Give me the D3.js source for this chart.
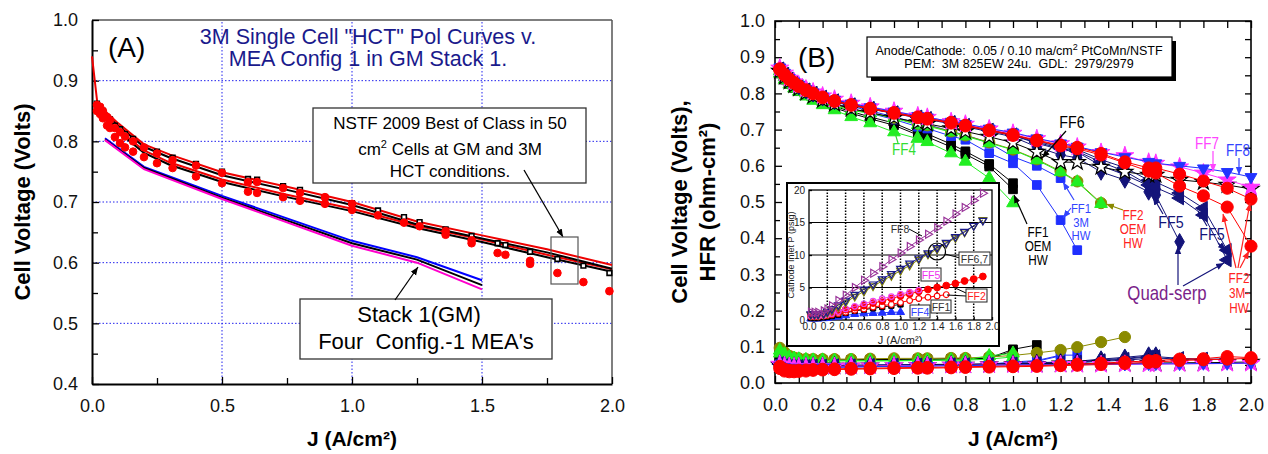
<!DOCTYPE html>
<html><head><meta charset="utf-8">
<script src="https://cdn.jsdelivr.net/npm/d3@7"></script>
<style>body{margin:0;background:#fff;} svg{display:block;font-family:"Liberation Sans",Arial,sans-serif;}</style>
</head><body><svg id="c" width="1268" height="454"></svg>
<script>
// ---------------- Panel A data ----------------
const gridXA = [0.5, 1.0, 1.5];
const gridYA = [0.5, 0.6, 0.7, 0.8, 0.9];
const xTickA = [0, 0.5, 1.0, 1.5, 2.0];
const xMinorA = [0.25, 0.75, 1.25, 1.75];
const yTickA = [0.4, 0.5, 0.6, 0.7, 0.8, 0.9, 1.0];
const yMinorA = [0.45, 0.55, 0.65, 0.75, 0.85, 0.95];

const nstfJ = [0, 0.02, 0.05, 0.1, 0.2, 0.3, 0.5, 0.75, 1.0, 1.25, 1.5, 1.75, 2.0];
const nstfRedHi = [0.94, 0.865, 0.85, 0.83, 0.795, 0.778, 0.749, 0.725, 0.700, 0.668, 0.645, 0.622, 0.596];
const nstfBlackHi = [null, 0.862, 0.846, 0.826, 0.791, 0.773, 0.744, 0.720, 0.695, 0.663, 0.640, 0.617, 0.590];
const nstfRedLo = [null, 0.855, 0.840, 0.820, 0.785, 0.765, 0.737, 0.712, 0.689, 0.661, 0.638, 0.613, 0.589];
const nstfBlackLo = [null, 0.852, 0.836, 0.816, 0.781, 0.761, 0.733, 0.708, 0.685, 0.657, 0.634, 0.609, 0.585];

const dotJ = [0.019,0.031,0.042,0.058,0.069,0.088,0.108,0.127,0.158,0.2,0.25,0.31,0.4,0.5,0.6,0.635,0.735,0.8,0.896,1.0,1.1,1.2,1.26,1.36,1.46,1.56,1.59,1.685,1.79,1.89,1.99];
const redDotHi = [0.860,0.857,0.850,0.840,0.835,0.822,0.815,0.808,0.800,0.790,0.780,0.769,0.760,0.748,0.733,0.733,0.723,0.715,0.708,0.697,null,null,null,0.652,0.637,null,null,0.603,null,null,null];
const redDotLo = [0.850,0.845,0.838,0.826,0.822,0.807,0.797,0.790,0.783,0.774,0.764,0.756,0.742,0.731,0.717,0.715,0.708,0.702,0.697,0.687,0.678,0.666,0.660,0.646,0.632,0.616,0.613,0.598,0.583,0.568,0.553];
const blackSq = [0.862,0.856,0.850,0.840,0.836,0.826,0.820,0.812,0.804,0.790,0.783,0.773,0.763,0.750,0.738,0.737,0.726,0.720,0.708,0.698,0.686,0.675,0.667,0.655,0.644,0.632,0.629,0.618,0.606,0.595,0.583];

const stackJ = [0.05, 0.2, 0.5, 1.0, 1.25, 1.5];
const stackBlue = [0.805, 0.758, 0.710, 0.636, 0.609, 0.571];
const stackBlack = [0.803, 0.756, 0.707, 0.632, 0.605, 0.563];
const stackMagenta = [0.802, 0.754, 0.705, 0.628, 0.600, 0.556];

// ---------------- Panel B data ----------------
const xTickB = [0, 0.2, 0.4, 0.6, 0.8, 1.0, 1.2, 1.4, 1.6, 1.8, 2.0];
const xMinorB = [0.1, 0.3, 0.5, 0.7, 0.9, 1.1, 1.3, 1.5, 1.7, 1.9];
const yTickB = [0, 0.1, 0.2, 0.3, 0.4, 0.5, 0.6, 0.7, 0.8, 0.9, 1.0];
const yMinorB = [0.05, 0.15, 0.25, 0.35, 0.45, 0.55, 0.65, 0.75, 0.85, 0.95];

const jB = [0.02,0.04,0.06,0.08,0.1,0.13,0.16,0.2,0.25,0.32,0.4,0.5,0.6,0.64,0.74,0.8,0.9,1.0,1.1,1.2,1.27,1.37,1.47,1.57,1.6,1.7,1.8,1.9,2.0];

const ff8V = [0.872,0.857,0.843,0.833,0.824,0.812,0.803,0.792,0.783,0.772,0.762,0.750,0.738,0.734,0.722,0.716,0.703,0.692,0.676,0.662,0.653,0.638,0.624,0.611,0.607,0.600,0.593,0.583,0.569];
const ff8H = [0.048,0.044,0.042,0.042,0.042,0.042,0.042,0.043,0.043,0.044,0.045,0.046,0.047,0.047,0.048,0.048,0.049,0.050,0.050,0.051,0.051,0.052,0.052,0.053,0.053,0.053,0.054,0.054,0.055];
const ff7V = [0.870,0.856,0.842,0.832,0.823,0.812,0.804,0.793,0.784,0.773,0.763,0.751,0.738,0.734,0.722,0.715,0.702,0.690,0.675,0.661,0.652,0.637,0.628,0.610,0.607,0.597,0.580,0.561,0.541];
const ff7H = [0.052,0.048,0.046,0.045,0.045,0.045,0.045,0.046,0.046,0.047,0.047,0.048,0.048,0.048,0.049,0.049,0.050,0.050,0.050,0.051,0.051,0.051,0.052,0.052,0.052,0.053,0.053,0.054,0.054];
const red1V = [0.868,0.853,0.840,0.830,0.821,0.810,0.801,0.790,0.780,0.769,0.759,0.747,0.735,0.731,0.720,0.712,0.699,0.686,0.671,0.657,0.651,0.634,0.611,0.594,0.594,0.577,0.558,0.538,0.508];
const red1H = [0.040,0.033,0.031,0.031,0.032,0.033,0.035,0.036,0.037,0.038,0.039,0.040,0.041,0.041,0.042,0.043,0.044,0.045,0.046,0.048,0.049,0.051,0.054,0.057,0.058,0.062,0.064,0.066,0.068];
const red2V = [0.865,0.850,0.838,0.828,0.819,0.808,0.799,0.788,0.778,0.767,0.757,0.745,0.733,0.729,0.718,0.710,0.697,0.684,0.669,0.655,0.647,0.630,0.608,0.585,0.580,0.544,0.517,0.486,0.378];
const red2H = [0.046,0.038,0.035,0.034,0.035,0.036,0.037,0.038,0.039,0.040,0.041,0.042,0.043,0.043,0.044,0.045,0.046,0.047,0.048,0.050,0.052,0.055,0.058,0.061,0.062,0.066,0.067,0.073,0.070];
const ff6V = [0.862,0.846,0.833,0.823,0.814,0.802,0.793,0.782,0.771,0.758,0.747,0.733,0.720,0.716,0.703,0.695,0.680,0.664,0.638,0.610,0.610,0.597,0.583,0.575,0.575,0.561,0.555,0.547,0.536];
const ff6H = [0.050,0.046,0.045,0.045,0.045,0.045,0.046,0.046,0.047,0.047,0.048,0.048,0.049,0.049,0.050,0.050,0.051,0.052,0.052,0.053,0.053,0.054,0.054,0.055,0.055,0.056,0.056,0.057,0.058];
const n1V = [0.866,0.851,0.838,0.828,0.819,0.808,0.799,0.788,0.778,0.767,0.757,0.745,0.732,0.728,0.716,0.708,0.694,0.680,0.652,0.630,0.622,0.583,0.561,0.528,0.519,0.390];
const n1H = [0.055,0.050,0.048,0.047,0.047,0.047,0.047,0.048,0.048,0.049,0.050,0.050,0.051,0.051,0.052,0.052,0.053,0.054,0.056,0.058,0.060,0.066,0.071,0.077,0.077];
const n2V = [0.867,0.852,0.839,0.829,0.820,0.809,0.800,0.789,0.779,0.768,0.758,0.746,0.734,0.730,0.718,0.710,0.697,0.684,0.662,0.645,0.638,0.600,0.575,0.545,0.535];
const n2H = [0.053,0.049,0.047,0.046,0.046,0.046,0.046,0.047,0.047,0.048,0.049,0.049,0.050,0.050,0.051,0.051,0.052,0.053,0.055,0.057,0.059,0.064,0.068,0.074,0.075];
const n3V = [0.868,0.853,0.840,0.830,0.821,0.810,0.801,0.790,0.780,0.769,0.759,0.747,0.735,0.731,0.720,0.712,0.699,0.686,0.668,0.652,0.645,0.617,0.595,0.560,0.555,0.525,0.483,0.367];
const n3H = [0.052,0.048,0.046,0.045,0.045,0.045,0.046,0.046,0.047,0.047,0.048,0.049,0.049,0.049,0.050,0.050,0.051,0.052,0.053,0.055,0.056,0.060,0.063,0.068,0.069,0.066,0.065,0.065];
const n4V = [0.867,0.852,0.839,0.829,0.820,0.809,0.800,0.789,0.779,0.768,0.758,0.746,0.734,0.730,0.719,0.711,0.698,0.684,0.665,0.648,0.640,0.610,0.585,0.547,0.540,0.511,0.464,0.340];
const n4H = [0.054,0.049,0.047,0.046,0.046,0.046,0.047,0.047,0.048,0.048,0.049,0.050,0.050,0.050,0.051,0.051,0.052,0.053,0.054,0.056,0.058,0.062,0.066,0.072,0.073,0.068,0.066,0.066];
const k1V = [0.860,0.843,0.830,0.818,0.810,0.798,0.788,0.776,0.764,0.750,0.735,0.718,0.690,0.688,0.660,0.640,0.605,0.552];
const k1H = [0.075,0.070,0.068,0.066,0.065,0.065,0.064,0.064,0.064,0.064,0.065,0.065,0.066,0.066,0.067,0.067,0.069,0.093,0.105];
const k2V = [0.855,0.838,0.826,0.815,0.806,0.795,0.785,0.772,0.760,0.745,0.730,0.712,0.685,0.680,0.652,0.632,0.598,0.535];
const k2H = [0.070,0.066,0.064,0.063,0.063,0.062,0.062,0.062,0.062,0.063,0.063,0.064,0.064,0.065,0.066,0.066,0.068,0.088];
const b1V = [0.870,0.855,0.842,0.832,0.822,0.810,0.800,0.788,0.777,0.764,0.752,0.735,0.718,0.714,0.695,0.685,0.663,0.625,0.600,0.566];
const b1H = [0.050,0.045,0.043,0.042,0.042,0.042,0.043,0.043,0.044,0.045,0.045,0.046,0.047,0.047,0.048,0.048,0.050,0.055,0.060,0.075];
const b2V = [0.868,0.852,0.838,0.828,0.818,0.806,0.796,0.784,0.772,0.758,0.745,0.728,0.708,0.703,0.682,0.672,0.635,0.607,0.547,0.450,0.367];
const b2H = [0.052,0.046,0.044,0.043,0.043,0.043,0.044,0.044,0.045,0.046,0.046,0.047,0.048,0.048,0.049,0.050,0.052,0.058,0.062,0.077,0.077];
const g1V = [0.855,0.838,0.825,0.814,0.805,0.792,0.780,0.768,0.754,0.735,0.718,0.693,0.675,0.666,0.635,0.612,0.566,0.497];
const g1H = [0.082,0.075,0.070,0.067,0.065,0.063,0.062,0.062,0.061,0.061,0.061,0.061,0.062,0.062,0.063,0.063,0.066,0.072];
const g2V = [0.862,0.846,0.833,0.822,0.813,0.800,0.790,0.778,0.767,0.753,0.745,0.732,0.713,0.710,0.693,0.682,0.663,0.644,0.616,0.583,0.555,0.495];
const g2H = [0.090,0.080,0.072,0.068,0.066,0.064,0.063,0.063,0.062,0.062,0.062,0.062,0.063,0.063,0.064,0.064,0.075,0.082];
const olV = [0.862,0.847,0.834,0.823,0.814,0.802,0.792,0.780,0.769,0.756,0.746,0.733,0.716,0.712,0.695,0.684,0.665,0.645,0.618,0.585,0.557,0.497];
const olH = [0.097,0.085,0.075,0.070,0.068,0.066,0.066,0.066,0.066,0.066,0.067,0.068,0.068,0.068,0.069,0.069,0.072,0.076,0.083,0.091,0.099,0.113,0.127];

// ---------------- Inset data ----------------
const insXTicks = [0,0.2,0.4,0.6,0.8,1.0,1.2,1.4,1.6,1.8,2.0];
const insYTicks = [0,5,10,15,20];
const insJ = [0.02,0.06,0.1,0.16,0.2,0.25,0.32,0.4,0.5,0.6,0.7,0.8,0.9,1.0,1.1,1.2,1.3,1.4,1.5,1.6,1.7,1.8,1.9];
const insFF8 = [1.2,1.2,1.2,1.4,1.7,2.2,3.0,3.8,5.0,6.1,7.2,8.2,9.3,10.3,11.3,12.3,13.2,14.2,15.2,16.3,17.3,18.4,19.5];
const insFF6 = [0.9,0.9,0.9,1.0,1.3,1.7,2.3,3.0,3.9,4.7,5.5,6.3,7.1,7.9,8.7,9.5,10.3,11.1,11.9,12.8,13.6,14.5,15.3];
const insFF7 = [0.8,0.8,0.8,0.9,1.1,1.5,2.0,2.7,3.6,4.4,5.2,6.0,6.8,7.6,8.4,9.3,10.1,10.9,11.8,12.6,13.5,14.5,15.4];
const insFF5 = [0.6,0.6,0.6,0.7,0.9,1.0,1.3,1.7,2.1,2.5,2.9,3.3,3.6,4.0,4.3,4.6];
const insFF2 = [0.8,0.8,0.8,0.9,1.0,1.1,1.3,1.6,1.9,2.2,2.6,2.9,3.3,3.7,4.0,4.4,4.7,5.0,5.3,5.6,6.0,6.3,6.7];
const insFF2o = [0.5,0.5,0.5,0.6,0.7,0.8,1.0,1.2,1.5,1.7,2.0,2.2,2.4,2.7,3.0,3.3,3.5,3.7,3.9];
const insFF1 = [0.3,0.3,0.3,0.4,0.5,0.6,0.8,1.1,1.4,1.6,1.8,2.0,2.2,2.4];
const insFF4 = [0.2,0.2,0.2,0.25,0.3,0.4,0.5,0.7,0.9,1.0,1.05,1.1,1.2,1.2];

// ---------------- drawing ----------------
const svg = d3.select('#c');
const FONT = '"Liberation Sans", Arial, sans-serif';
const defs = svg.append('defs');
function arrowId(color){
  const id = 'ah' + color.replace('#','');
  if (defs.select('#'+id).empty()){
    defs.append('marker').attr('id',id).attr('viewBox','0 0 10 10').attr('refX',10).attr('refY',5)
      .attr('markerWidth',8).attr('markerHeight',8).attr('markerUnits','userSpaceOnUse').attr('orient','auto')
      .append('path').attr('d','M0,1 L10,5 L0,9 z').attr('fill',color);
  }
  return 'url(#'+id+')';
}
function arrow(g,x1,y1,x2,y2,color,w){
  g.append('line').attr('x1',x1).attr('y1',y1).attr('x2',x2).attr('y2',y2)
   .attr('stroke',color).attr('stroke-width',w||1.2).attr('marker-end',arrowId(color));
}
const SYM = {circle:[d3.symbolCircle,0], square:[d3.symbolSquare,0], triUp:[d3.symbolTriangle,0],
  triDown:[d3.symbolTriangle,180], triLeft:[d3.symbolTriangle,-90], triRight:[d3.symbolTriangle,90],
  diamond:[d3.symbolDiamond,0], star:[d3.symbolStar,0]};
function series(g, xs, ys, js, vs, o){
  const pts = vs.map((v,i)=>({j:js[i], v:v})).filter(p=>p.v!=null);
  if (o.line !== false){
    g.append('path').datum(pts).attr('d', d3.line().x(p=>xs(p.j)).y(p=>ys(p.v)))
      .attr('fill','none').attr('stroke',o.lineColor||o.color).attr('stroke-width',o.lw||1);
  }
  if (o.marker){
    const s = SYM[o.marker];
    const path = d3.symbol().type(s[0]).size(o.size||60)();
    g.selectAll(null).data(pts).enter().append('path')
      .attr('transform',p=>`translate(${xs(p.j)},${ys(p.v)}) rotate(${s[1]})`)
      .attr('d',path).attr('fill',o.fill||o.color).attr('stroke',o.stroke||o.color).attr('stroke-width',o.sw||1);
  }
}
function styleAxis(g,size,fill){
  g.selectAll('text').attr('font-size',size).attr('font-family',FONT).attr('fill',fill||'#111');
  g.selectAll('.tick line').attr('stroke','#000').attr('stroke-width',1.3);
}

// ===== Panel A =====
const xA = d3.scaleLinear().domain([0,2]).range([92,612]);
const yA = d3.scaleLinear().domain([0.4,1.0]).range([384,20]);
const gA = svg.append('g');
gA.selectAll(null).data(gridXA).enter().append('line')
  .attr('x1',d=>xA(d)).attr('x2',d=>xA(d)).attr('y1',yA(0.4)).attr('y2',yA(1.0))
  .attr('stroke','#2222ee').attr('stroke-width',1).attr('stroke-dasharray','1.5,2');
gA.selectAll(null).data(gridYA).enter().append('line')
  .attr('y1',d=>yA(d)).attr('y2',d=>yA(d)).attr('x1',xA(0)).attr('x2',xA(2))
  .attr('stroke','#2222ee').attr('stroke-width',1).attr('stroke-dasharray','1.5,2');
gA.append('line').attr('x1',xA(0)).attr('x2',xA(2)).attr('y1',yA(1)).attr('y2',yA(1)).attr('stroke','#555').attr('stroke-width',1.5);
gA.append('line').attr('x1',xA(2)).attr('x2',xA(2)).attr('y1',yA(1)).attr('y2',yA(0.4)).attr('stroke','#555').attr('stroke-width',1.5);
gA.append('g').attr('transform',`translate(${xA(0)},0)`)
  .call(d3.axisLeft(yA).tickValues(yTickA).tickFormat(d3.format('.1f')).tickSizeInner(-7).tickSizeOuter(0).tickPadding(14))
  .call(g=>{g.select('.domain').attr('stroke','#000').attr('stroke-width',2); styleAxis(g,18);});
gA.append('g').attr('transform',`translate(${xA(0)},0)`)
  .call(d3.axisLeft(yA).tickValues(yMinorA).tickFormat('').tickSizeInner(-6).tickSizeOuter(0))
  .call(g=>{g.select('.domain').remove(); styleAxis(g,18);});
gA.append('g').attr('transform',`translate(0,${yA(0.4)})`)
  .call(d3.axisBottom(xA).tickValues(xTickA).tickFormat(d3.format('.1f')).tickSizeInner(-7).tickSizeOuter(0).tickPadding(15))
  .call(g=>{g.select('.domain').attr('stroke','#000').attr('stroke-width',2); styleAxis(g,18);});
gA.append('g').attr('transform',`translate(0,${yA(0.4)})`)
  .call(d3.axisBottom(xA).tickValues(xMinorA).tickFormat('').tickSizeInner(-6).tickSizeOuter(0))
  .call(g=>{g.select('.domain').remove(); styleAxis(g,18);});

// stack lines
series(gA,xA,yA,stackJ,stackBlue,{color:'#0000ff',lw:2});
series(gA,xA,yA,stackJ,stackBlack,{color:'#000',lw:2});
series(gA,xA,yA,stackJ,stackMagenta,{color:'#ff00cc',lw:2});
// NSTF lines
series(gA,xA,yA,nstfJ,nstfBlackLo,{color:'#000',lw:2});
series(gA,xA,yA,nstfJ,nstfRedLo,{color:'#ee0000',lw:2});
series(gA,xA,yA,nstfJ,nstfBlackHi,{color:'#000',lw:2});
series(gA,xA,yA,nstfJ,nstfRedHi,{color:'#ee0000',lw:2});
// points
series(gA,xA,yA,dotJ,blackSq,{line:false,marker:'square',size:22,fill:'#fff',stroke:'#000',sw:1.6});
series(gA,xA,yA,dotJ,redDotHi,{line:false,marker:'circle',size:46,color:'#ff0000'});
series(gA,xA,yA,dotJ,redDotLo,{line:false,marker:'circle',size:46,color:'#ff0000'});

// texts A
gA.append('text').attr('x',108).attr('y',57).attr('font-size',28).text('(A)');
gA.append('text').attr('x',368).attr('y',44).attr('text-anchor','middle').attr('font-size',21.5).attr('fill','#1a1a8c').text('3M Single Cell "HCT" Pol Curves v.');
gA.append('text').attr('x',368).attr('y',66).attr('text-anchor','middle').attr('font-size',21.5).attr('fill','#1a1a8c').text('MEA Config 1 in GM Stack 1.');
// NSTF box
gA.append('rect').attr('x',313).attr('y',108).attr('width',273).attr('height',75).attr('fill','#fff').attr('stroke','#333').attr('stroke-width',1.3);
gA.append('text').attr('x',450).attr('y',129).attr('text-anchor','middle').attr('font-size',17).text('NSTF 2009 Best of Class in 50');
const t2 = gA.append('text').attr('x',450).attr('y',155).attr('text-anchor','middle').attr('font-size',17);
t2.append('tspan').text('cm');
t2.append('tspan').attr('dy',-7).attr('font-size',11).text('2');
t2.append('tspan').attr('dy',7).text(' Cells at GM and 3M');
gA.append('text').attr('x',450).attr('y',177).attr('text-anchor','middle').attr('font-size',17).text('HCT conditions.');
arrow(gA,524,170,563,237,'#000',1.3);
gA.append('rect').attr('x',551).attr('y',237).attr('width',27).attr('height',47).attr('fill','none').attr('stroke','#555').attr('stroke-width',1.2);
// Stack box
gA.append('rect').attr('x',300).attr('y',299).attr('width',252).attr('height',60).attr('fill','#fff').attr('stroke','#333').attr('stroke-width',1.3);
gA.append('text').attr('x',419).attr('y',322).attr('text-anchor','middle').attr('font-size',22).text('Stack 1(GM)');
gA.append('text').attr('x',426).attr('y',349).attr('text-anchor','middle').attr('font-size',22).attr('xml:space','preserve').text("Four  Config.-1 MEA's");
arrow(gA,395,300,418,267,'#000',1.3);
// axis titles A
gA.append('text').attr('x',352).attr('y',446).attr('text-anchor','middle').attr('font-size',21).attr('font-weight','bold').text('J (A/cm²)');
gA.append('text').attr('transform','translate(30,202) rotate(-90)').attr('text-anchor','middle').attr('font-size',22).attr('font-weight','bold').text('Cell Voltage (Volts)');

// ===== Panel B =====
const xB = d3.scaleLinear().domain([0,2]).range([775,1251]);
const yB = d3.scaleLinear().domain([0,1]).range([383,21]);
const gB = svg.append('g');
gB.append('rect').attr('x',xB(0)).attr('y',yB(1)).attr('width',xB(2)-xB(0)).attr('height',yB(0)-yB(1)).attr('fill','none').attr('stroke','#000').attr('stroke-width',1.6);
gB.append('g').attr('transform',`translate(${xB(0)},0)`)
  .call(d3.axisLeft(yB).tickValues(yTickB).tickFormat(d3.format('.1f')).tickSizeInner(-7).tickSizeOuter(0).tickPadding(10))
  .call(g=>{g.select('.domain').remove(); styleAxis(g,18);});
gB.append('g').attr('transform',`translate(${xB(0)},0)`)
  .call(d3.axisLeft(yB).tickValues(yMinorB).tickFormat('').tickSizeInner(-5).tickSizeOuter(0))
  .call(g=>{g.select('.domain').remove(); styleAxis(g,18);});
gB.append('g').attr('transform',`translate(${xB(2)},0)`)
  .call(d3.axisRight(yB).tickValues(yTickB.concat(yMinorB)).tickFormat('').tickSizeInner(-6).tickSizeOuter(0))
  .call(g=>{g.select('.domain').remove(); styleAxis(g,18);});
gB.append('g').attr('transform',`translate(0,${yB(0)})`)
  .call(d3.axisBottom(xB).tickValues(xTickB).tickFormat(d3.format('.1f')).tickSizeInner(-7).tickSizeOuter(0).tickPadding(15))
  .call(g=>{g.select('.domain').remove(); styleAxis(g,18);});
gB.append('g').attr('transform',`translate(0,${yB(0)})`)
  .call(d3.axisBottom(xB).tickValues(xMinorB).tickFormat('').tickSizeInner(-6).tickSizeOuter(0))
  .call(g=>{g.select('.domain').remove(); styleAxis(g,18);});
gB.append('g').attr('transform',`translate(0,${yB(1)})`)
  .call(d3.axisTop(xB).tickValues(xTickB.concat(xMinorB)).tickFormat('').tickSizeInner(-7).tickSizeOuter(0))
  .call(g=>{g.select('.domain').remove(); styleAxis(g,18);});

const C = {red:'#ff0000', black:'#000000', blue:'#1f2fff', navy:'#14147a', olive:'#8a8a00', green:'#22ee22', mag:'#ff33ff', ff8:'#2233ff'};
const specs = [
  [k2V,k2H,{color:C.black,marker:'square',size:75}],
  [k1V,k1H,{color:C.black,marker:'square',size:75}],
  [b2V,b2H,{color:C.blue,marker:'square',size:75}],
  [b1V,b1H,{color:C.blue,marker:'square',size:75}],
  [olV,olH,{color:C.olive,marker:'circle',size:100}],
  [g1V,g1H,{color:C.green,marker:'triUp',size:70}],
  [g2V,g2H,{color:C.green,marker:'triUp',size:70}],
  [n1V,n1H,{color:C.navy,marker:'diamond',size:80}],
  [n2V,n2H,{color:C.navy,marker:'diamond',size:80}],
  [n3V,n3H,{color:C.navy,marker:'triLeft',size:80}],
  [n4V,n4H,{color:C.navy,marker:'triLeft',size:80}],
  [ff6V,ff6H,{color:C.black,marker:'star',size:80,fill:'#fff',sw:1.2}],
  [ff7V,ff7H,{color:C.mag,marker:'star',size:100}],
  [ff8V,ff8H,{color:C.ff8,marker:'triDown',size:60}],
  [red2V,red2H,{color:C.red,marker:'circle',size:115}],
  [red1V,red1H,{color:C.red,marker:'circle',size:115}]
];
specs.forEach(s=>series(gB,xB,yB,jB,s[1],s[2]));
specs.forEach(s=>series(gB,xB,yB,jB,s[0],s[2]));

// Panel B labels
gB.append('text').attr('x',798).attr('y',67).attr('font-size',28).text('(B)');
gB.append('rect').attr('x',871).attr('y',41).attr('width',305).attr('height',40).attr('fill','#000');
gB.append('rect').attr('x',867).attr('y',37).attr('width',305).attr('height',40).attr('fill','#fff').attr('stroke','#000').attr('stroke-width',1.2);
const it = gB.append('text').attr('x',1019).attr('y',55).attr('text-anchor','middle').attr('font-size',12.5).attr('xml:space','preserve');
it.append('tspan').text('Anode/Cathode:  0.05 / 0.10 ma/cm');
it.append('tspan').attr('dy',-5).attr('font-size',9).text('2');
it.append('tspan').attr('dy',5).text(' PtCoMn/NSTF');
gB.append('text').attr('x',1019).attr('y',68).attr('text-anchor','middle').attr('font-size',12.5).attr('xml:space','preserve').text('PEM:  3M 825EW 24u.  GDL:  2979/2979');

function lab(x,y,lines,color,size,dy){
  lines.forEach((l,i)=>gB.append('text')
    .attr('transform',`translate(${x},${y+i*(dy||14)}) scale(0.84,1)`).attr('text-anchor','middle')
    .attr('font-size',size).attr('fill',color).text(l));
}
lab(1072,128,['FF6'],'#000',17);
arrow(gB,1066,131,1042,158,'#000',1.2);
lab(904,155,['FF4'],'#33dd33',16);
gB.append('line').attr('x1',898).attr('y1',143).attr('x2',895).attr('y2',133).attr('stroke','#33dd33').attr('stroke-width',1.2);
gB.append('line').attr('x1',911).attr('y1',143).attr('x2',920).attr('y2',126).attr('stroke','#33dd33').attr('stroke-width',1.2);
lab(1207,149,['FF7'],'#ff44ff',16);
arrow(gB,1213,151,1213,172,'#ff44ff',1.2);
lab(1238,156,['FF8'],'#3344ff',16);
arrow(gB,1239,158,1239,175,'#3344ff',1.2);
lab(1038,237,['FF1','OEM','HW'],'#000',14,14);
arrow(gB,1027,224,1014,195,'#000',1.2);
lab(1081,213,['FF1','3M','HW'],'#3344ff',13.5,13.5);
arrow(gB,1074,200,1063,182,'#3344ff',1.2);
arrow(gB,1071,208,1063,218,'#3344ff',1.2);
lab(1133,220,['FF2','OEM','HW'],'#ff2222',14,14);
arrow(gB,1123,210,1106,204,C.olive,1.2);
lab(1171,228,['FF5'],C.navy,17);
arrow(gB,1163,214,1153,197,C.navy,1.2);
lab(1212,240,['FF5'],C.navy,17);
arrow(gB,1207,226,1198,211,C.navy,1.2);
arrow(gB,1218,243,1226,250,C.navy,1.2);
lab(1167,300,['Quad-serp'],'#7a1f8a',20);
arrow(gB,1178,285,1178,246,C.navy,1.2);
arrow(gB,1183,286,1224,263,C.navy,1.2);
lab(1239,283,['FF2','3M-','HW'],'#ff2222',14,15);
arrow(gB,1238,268,1250,203,'#ff2222',1.2);
arrow(gB,1236,268,1223,214,'#ff2222',1.2);
arrow(gB,1240,268,1249,251,'#ff2222',1.2);

// axis titles B
gB.append('text').attr('x',1013).attr('y',446).attr('text-anchor','middle').attr('font-size',21).attr('font-weight','bold').text('J (A/cm²)');
gB.append('text').attr('transform','translate(687,202) rotate(-90)').attr('text-anchor','middle').attr('font-size',22).attr('font-weight','bold').text('Cell Voltage (Volts),');
gB.append('text').attr('transform','translate(715,202) rotate(-90)').attr('text-anchor','middle').attr('font-size',22).attr('font-weight','bold').text('HFR (ohm-cm²)');

// ===== Inset =====
const xI = d3.scaleLinear().domain([0,2]).range([809,992]);
const yI = d3.scaleLinear().domain([0,20]).range([320,190]);
const gI = svg.append('g');
gI.append('rect').attr('x',787).attr('y',183).attr('width',212).attr('height',163).attr('fill','#fff').attr('stroke','#000').attr('stroke-width',2);
gI.selectAll(null).data(insXTicks.slice(1,10)).enter().append('line')
  .attr('x1',d=>xI(d)).attr('x2',d=>xI(d)).attr('y1',yI(0)).attr('y2',yI(20))
  .attr('stroke','#000').attr('stroke-width',1.5).attr('stroke-dasharray','1.5,1.5');
gI.selectAll(null).data(insYTicks.slice(1,4)).enter().append('line')
  .attr('y1',d=>yI(d)).attr('y2',d=>yI(d)).attr('x1',xI(0)).attr('x2',xI(2))
  .attr('stroke','#000').attr('stroke-width',1.2);
gI.append('rect').attr('x',xI(0)).attr('y',yI(20)).attr('width',xI(2)-xI(0)).attr('height',yI(0)-yI(20)).attr('fill','none').attr('stroke','#000').attr('stroke-width',1.3);
gI.append('g').attr('transform',`translate(${xI(0)},0)`)
  .call(d3.axisLeft(yI).tickValues(insYTicks).tickFormat(d3.format('d')).tickSizeInner(-3).tickSizeOuter(0).tickPadding(4))
  .call(g=>{g.select('.domain').remove(); styleAxis(g,10,'#222');});
gI.append('g').attr('transform',`translate(0,${yI(0)})`)
  .call(d3.axisBottom(xI).tickValues(insXTicks).tickFormat(d3.format('.1f')).tickSizeInner(-3).tickSizeOuter(0).tickPadding(3))
  .call(g=>{g.select('.domain').remove(); styleAxis(g,10,'#222');});
gI.append('text').attr('x',900).attr('y',344).attr('text-anchor','middle').attr('font-size',11).attr('fill','#222').text('J (A/cm²)');
gI.append('text').attr('transform','translate(794,255) rotate(-90)').attr('text-anchor','middle').attr('font-size',9).attr('fill','#222').text('Cathode Inlet P (psig)');

series(gI,xI,yI,insJ,insFF4,{color:'#1f2fff',marker:'triUp',size:28});
series(gI,xI,yI,insJ,insFF1,{color:'#000',marker:'square',size:28});
series(gI,xI,yI,insJ,insFF2o,{color:'#ff0000',marker:'circle',size:26,fill:'#fff',sw:1.2});
series(gI,xI,yI,insJ,insFF2,{color:'#ff0000',marker:'circle',size:36});
series(gI,xI,yI,insJ,insFF5,{color:'#ee44ee',marker:'circle',size:24,fill:'none',sw:1.2});
series(gI,xI,yI,insJ,insFF7,{color:'#808000',marker:'triDown',size:26,fill:'none',sw:1.2});
series(gI,xI,yI,insJ,insFF6,{color:'#1a1a8a',marker:'triDown',size:26,fill:'none',sw:1.2});
series(gI,xI,yI,insJ,insFF8,{color:'#993399',marker:'triRight',size:28,fill:'none',sw:1.2});

gI.append('text').attr('x',900).attr('y',233).attr('text-anchor','middle').attr('font-size',10.5).attr('fill','#333').text('FF8');
gI.append('line').attr('x1',909).attr('y1',229).attr('x2',922).attr('y2',236).attr('stroke','#000').attr('stroke-width',1);
gI.append('circle').attr('cx',937).attr('cy',251.5).attr('r',8.5).attr('fill','none').attr('stroke','#000').attr('stroke-width',1.2);
gI.append('line').attr('x1',945).attr('y1',254).attr('x2',960).attr('y2',258).attr('stroke','#000').attr('stroke-width',1);
function ibox(x,y,w,txt,color){
  gI.append('rect').attr('x',x).attr('y',y).attr('width',w).attr('height',13).attr('fill','#fff').attr('stroke','#222').attr('stroke-width',1);
  gI.append('text').attr('x',x+w/2).attr('y',y+10.5).attr('text-anchor','middle').attr('font-size',10.5).attr('fill',color).text(txt);
}
ibox(959,252,31,'FF6,7','#333');
ibox(921,268,20,'FF5','#ee33ee');
gI.append('line').attr('x1',966).attr('y1',293).attr('x2',953).attr('y2',287).attr('stroke','#000').attr('stroke-width',1);
gI.append('line').attr('x1',966).attr('y1',296).attr('x2',947).attr('y2',295).attr('stroke','#000').attr('stroke-width',1);
ibox(966,289,21,'FF2','#ff2222');
ibox(931,300,20,'FF1','#333');
ibox(910,305,20,'FF4','#3344ff');
</script></body></html>
